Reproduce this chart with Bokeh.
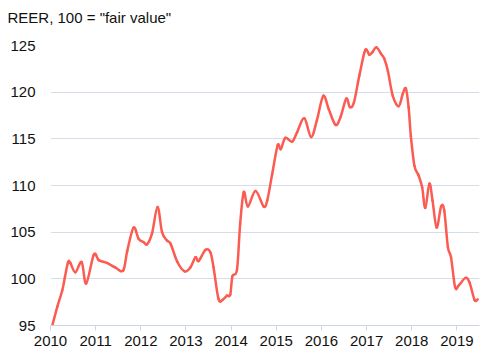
import numpy as np
from bokeh.plotting import figure
from bokeh.models import FixedTicker, Range1d
from bokeh.embed import file_html
from bokeh.resources import INLINE

# REER values (decimal year, index level)
years = [2010.04, 2010.15, 2010.26, 2010.32, 2010.39, 2010.44, 2010.55, 2010.69, 2010.79, 2010.96,
         2011.07, 2011.25, 2011.44, 2011.61, 2011.70, 2011.84, 2011.95, 2012.07, 2012.14, 2012.25,
         2012.37, 2012.47, 2012.58, 2012.66, 2012.81, 2012.97, 2013.10, 2013.21, 2013.28, 2013.43,
         2013.54, 2013.61, 2013.72, 2013.81, 2013.91, 2013.98, 2014.03, 2014.13, 2014.20, 2014.28,
         2014.37, 2014.54, 2014.72, 2014.80, 2014.91, 2015.03, 2015.10, 2015.20, 2015.35, 2015.46,
         2015.62, 2015.77, 2015.90, 2016.04, 2016.16, 2016.31, 2016.42, 2016.55, 2016.63, 2016.72,
         2016.84, 2016.97, 2017.06, 2017.13, 2017.22, 2017.32, 2017.39, 2017.47, 2017.58, 2017.71,
         2017.80, 2017.87, 2017.93, 2017.98, 2018.06, 2018.15, 2018.23, 2018.30, 2018.39, 2018.46,
         2018.55, 2018.65, 2018.72, 2018.80, 2018.87, 2018.96, 2019.04, 2019.19, 2019.28, 2019.39,
         2019.46]
reer = [95.0, 97.0, 98.75, 100.2, 101.8, 101.7, 100.7, 101.8, 99.5, 102.6,
        102.0, 101.7, 101.2, 100.9, 103.0, 105.5, 104.3, 103.9, 103.7, 104.9,
        107.7, 105.0, 104.1, 103.75, 101.8, 100.8, 101.25, 102.3, 101.9, 103.1,
        102.85, 101.25, 97.85, 97.75, 98.2, 98.3, 100.3, 101.0, 105.9, 109.3,
        107.75, 109.4, 107.75, 108.4, 111.25, 114.3, 113.9, 115.1, 114.7, 115.7,
        117.2, 115.2, 117.0, 119.6, 118.2, 116.5, 117.3, 119.3, 118.4, 118.9,
        121.8, 124.5, 124.0, 124.3, 124.8, 124.1, 123.6, 122.3, 119.6, 118.5,
        119.8, 120.4, 118.4, 115.3, 112.1, 111.1, 109.8, 107.6, 110.2, 108.4,
        105.5, 107.75, 107.3, 103.4, 102.3, 99.1, 99.3, 100.1, 99.6, 97.75,
        97.8]

x_ticks = [2010, 2011, 2012, 2013, 2014, 2015, 2016, 2017, 2018, 2019]
y_ticks = [95, 100, 105, 110, 115, 120, 125]
title_text = 'REER, 100 = "fair value"'

FONT = "Liberation Sans"
TXT = "#111111"
LINE = "#fb5b51"

p = figure(width=490, height=358, output_backend="svg", toolbar_location=None,
           x_range=Range1d(2010, 2019.5), y_range=Range1d(95, 125),
           min_border_left=50, min_border_right=11, min_border_bottom=33, min_border_top=45)
p.outline_line_color = None
p.background_fill_color = "white"

# title: an empty second line lifts the text well above the plot frame
p.title.text = title_text + "\n"
p.title.align = "left"
p.title.offset = -43
p.title.text_font = FONT
p.title.text_font_size = "15px"
p.title.text_font_style = "normal"
p.title.text_color = TXT
p.title.standoff = 5

# smooth curve through the data points (Catmull-Rom segments drawn as Bezier glyphs)
xs = np.array(years)
ys = np.array(reer)
xp = np.concatenate([[xs[0]], xs, [xs[-1]]])
yp = np.concatenate([[ys[0]], ys, [ys[-1]]])
t = 1.0 / 6.0
x0, y0 = xs[:-1], ys[:-1]
x1, y1 = xs[1:], ys[1:]
cx0 = x0 + (xp[2:-1] - xp[:-3]) * t
cy0 = y0 + (yp[2:-1] - yp[:-3]) * t
cx1 = x1 - (xp[3:] - xp[1:-2]) * t
cy1 = y1 - (yp[3:] - yp[1:-2]) * t
p.bezier(x0=x0, y0=y0, x1=x1, y1=y1, cx0=cx0, cy0=cy0, cx1=cx1, cy1=cy1,
         line_color=LINE, line_width=2.5, line_cap="round")

xa = p.xaxis[0]
xa.ticker = FixedTicker(ticks=x_ticks)
xa.major_label_overrides = {t: str(t) for t in x_ticks}
xa.axis_line_color = "#ccd6eb"
xa.major_tick_line_color = "#ccd6eb"
xa.major_tick_out = 5
xa.major_tick_in = 0
xa.minor_tick_line_color = None
xa.major_label_text_font = FONT
xa.major_label_text_font_size = "15px"
xa.major_label_text_color = TXT
xa.major_label_standoff = 5

ya = p.yaxis[0]
ya.ticker = FixedTicker(ticks=y_ticks)
ya.axis_line_color = None
ya.major_tick_line_color = None
ya.minor_tick_line_color = None
ya.major_tick_out = 0
ya.major_tick_in = 0
ya.major_label_text_font = FONT
ya.major_label_text_font_size = "15px"
ya.major_label_text_color = TXT
ya.major_label_standoff = 15

p.xgrid.grid_line_color = None
p.ygrid.grid_line_color = "#d5dde8"
p.ygrid.grid_line_width = 1

open("out.html", "w").write(file_html(p, INLINE))
